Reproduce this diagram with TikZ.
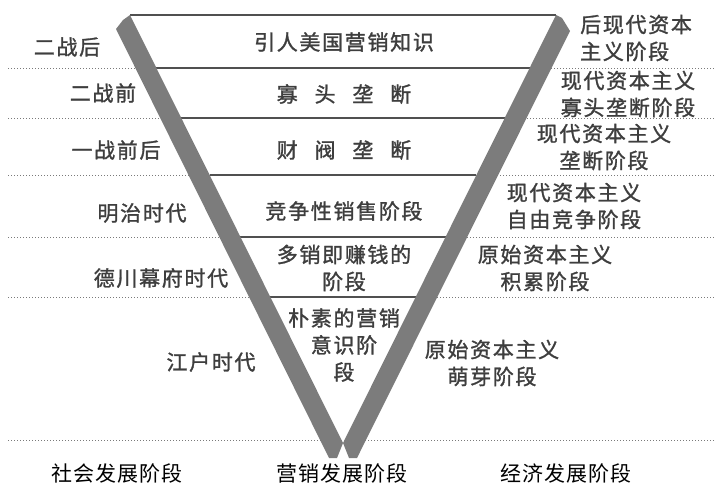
\documentclass[tikz,border=0pt]{standalone}
\usepackage{fontspec}
\setmainfont{Noto Sans CJK SC}
\newfontfamily\lblfont[LetterSpace=8,FakeBold=1.3]{Noto Sans CJK SC}
\newfontfamily\headfont[LetterSpace=4]{Noto Sans CJK SC}
\usetikzlibrary{calc}
\definecolor{txt}{HTML}{3E3E3E}
\definecolor{band}{HTML}{7C7C7C}
\definecolor{rulec}{HTML}{505050}
\definecolor{dots}{HTML}{7A7A7A}
\begin{document}
\begin{tikzpicture}[x=1pt,y=-1pt,
  lbl/.style={font=\lblfont\fontsize{21}{27}\selectfont, text=txt, inner sep=0pt, align=center},
  head/.style={font=\headfont\fontsize{21}{27}\selectfont, text=black, inner sep=0pt},
  dotline/.style={draw=dots, line width=0.8pt, dash pattern=on 1.2pt off 1.8pt},
  stageline/.style={draw=rulec, line width=1.8pt},
  bandfill/.style={fill=band, draw=none}]

\useasboundingbox (0,0) rectangle (720,487);

% key points of the inverted triangle
\coordinate (TL) at (130,15);
\coordinate (TR) at (556,15);
\coordinate (tip) at (343,443);

% dotted separators
\foreach \yy/\nm in {68/a,118/b,175/c,237/d,297/e,440/f}{
  \coordinate (dl\nm) at (8,\yy);
  \coordinate (dr\nm) at (715,\yy);
  \draw[dotline] (dl\nm) -- (dr\nm);
}

% white inner triangle
\fill[white] (TL) -- (TR) -- (tip) -- cycle;

% stage lines inside the triangle
\draw[stageline] (TL) -- (TR);
\foreach \t in {0.1238,0.2407,0.3738,0.5187,0.6589}{
  \draw[stageline] ($(TL)!\t!(tip)$) -- ($(TR)!\t!(tip)$);
}

% gray bands
\fill[bandfill] (TL) -- (tip) -- (337,458) -- (329,458) -- (116,29) -- (123,20) -- cycle;
\fill[bandfill] (TR) -- (tip) -- (349,458) -- (357,458) -- (570,31) -- (562,18) -- cycle;

% left column
\node[lbl] (s1) at (67,47) {二战后};
\node[lbl] (s2) at (103,93) {二战前};
\node[lbl] (s3) at (116,150) {一战前后};
\node[lbl] (s4) at (142,213) {明治时代};
\node[lbl] (s5) at (161,278) {德川幕府时代};
\node[lbl] (s6) at (211,362) {江户时代};

% centre column
\node[lbl] (m1) at (344,42) {引人美国营销知识};
\node[lbl] (m2) at (344,94) {寡\hspace{0.8em}头\hspace{0.8em}垄\hspace{0.8em}断};
\node[lbl] (m3) at (344,150) {财\hspace{0.8em}阀\hspace{0.8em}垄\hspace{0.8em}断};
\node[lbl] (m4) at (344,211) {竞争性销售阶段};
\node[lbl] (m5) at (344,268) {多销即赚钱的\\阶段};
\node[lbl] (m6) at (344,345) {朴素的营销\\意识阶\\段};

% right column
\node[lbl, anchor=west, align=left] (e1) at (580,38) {后现代资本\\主义阶段};
\node[lbl] (e2) at (628,94) {现代资本主义\\寡头垄断阶段};
\node[lbl] (e3) at (604,147) {现代资本主义\\垄断阶段};
\node[lbl] (e4) at (574,206) {现代资本主义\\自由竞争阶段};
\node[lbl] (e5) at (545,268) {原始资本主义\\积累阶段};
\node[lbl] (e6) at (492,363) {原始资本主义\\萌芽阶段};

% bottom headings
\node[head] (h1) at (117,473) {社会发展阶段};
\node[head] (h2) at (342,473) {营销发展阶段};
\node[head] (h3) at (566,473) {经济发展阶段};
\end{tikzpicture}
\end{document}
